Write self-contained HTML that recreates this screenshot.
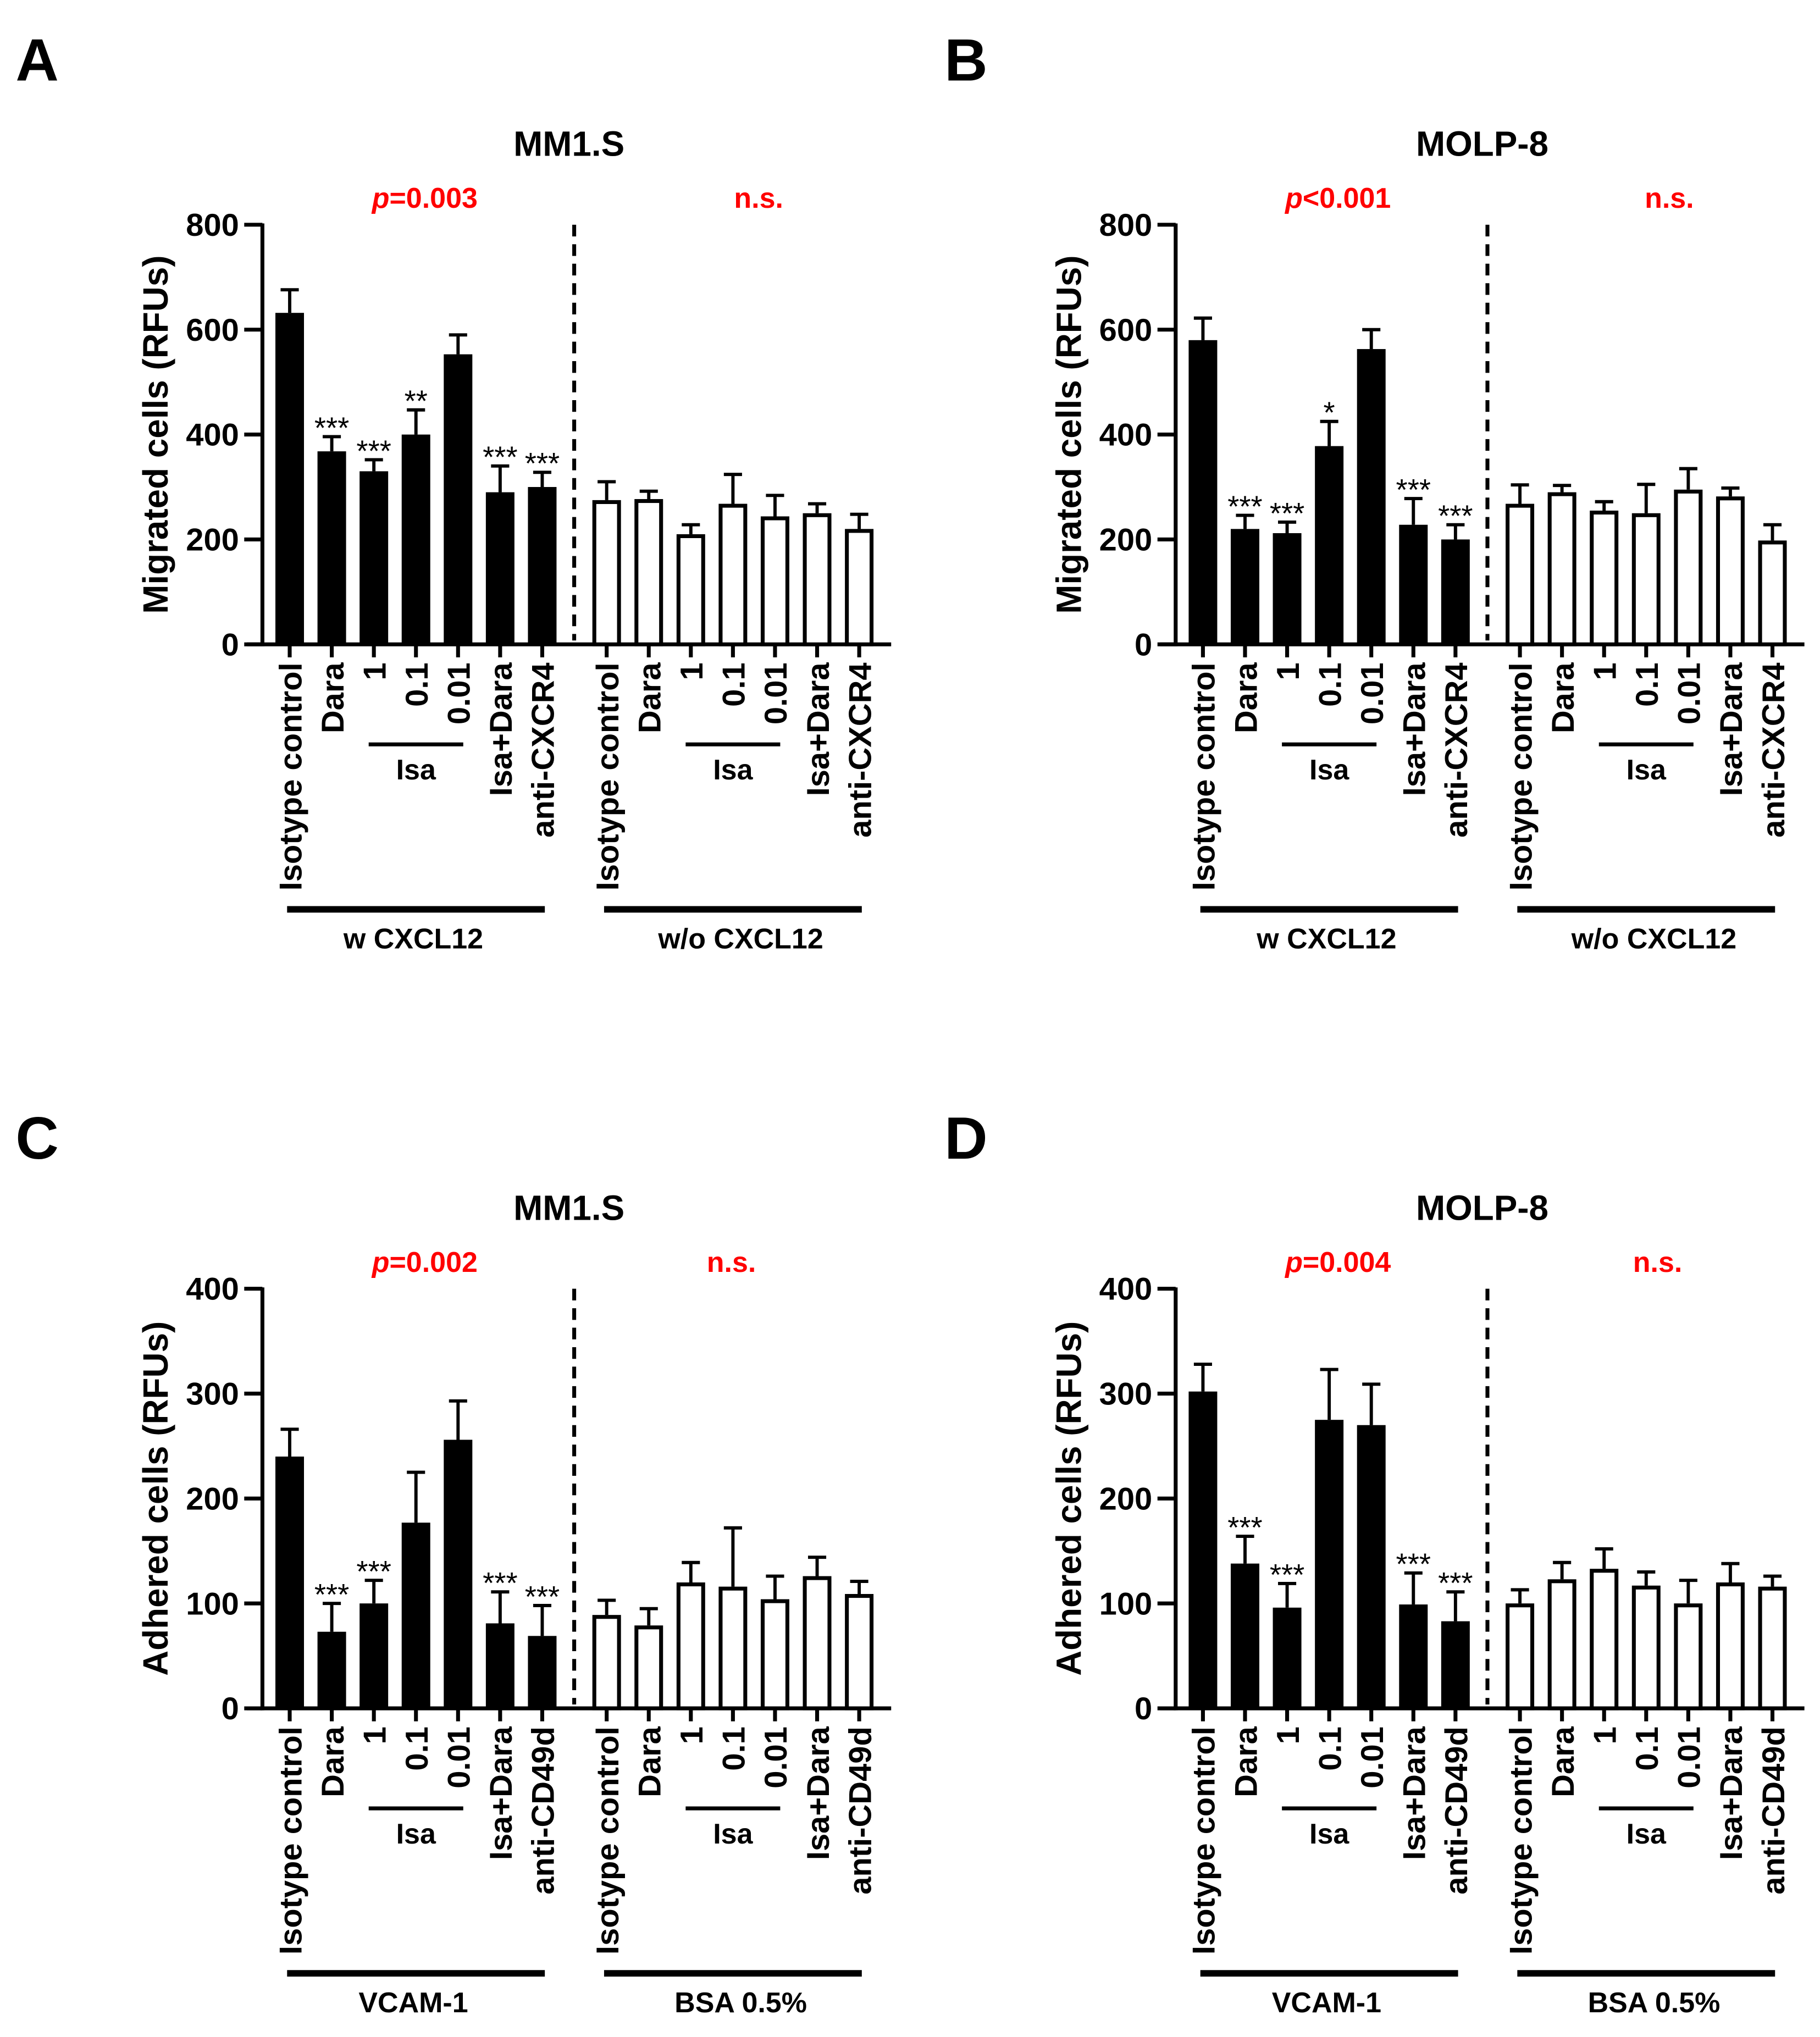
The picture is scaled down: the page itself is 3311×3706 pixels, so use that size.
<!DOCTYPE html>
<html><head><meta charset="utf-8"><style>
html,body{margin:0;padding:0;background:#fff}
svg{display:block}
text{font-family:"Liberation Sans",Arial,sans-serif;font-weight:bold}
</style></head><body>
<svg id="fig" width="3311" height="3706" viewBox="0 0 1401 1568" preserveAspectRatio="none" xmlns="http://www.w3.org/2000/svg">
<g id="root"></g>
</svg>
<script>
const categories = ["Isotype control","Dara","1","0.1","0.01","Isa+Dara","anti-CXCR4"];
const categoriesCD = ["Isotype control","Dara","1","0.1","0.01","Isa+Dara","anti-CD49d"];
const aBlack = [632,368,330,400,553,290,300];
const aBlackErr = [44,28,22,47,37,50,28];
const aWhite = [275,277,210,268,244,250,220];
const aWhiteErr = [35,15,18,56,40,18,28];
const aStars = ["","***","***","**","","***","***"];
const bBlack = [580,220,212,378,563,228,200];
const bBlackErr = [42,26,21,47,37,50,28];
const bWhite = [268,290,255,250,295,282,198];
const bWhiteErr = [36,13,17,55,40,16,30];
const bStars = ["","***","***","*","","***","***"];
const cBlack = [240,73,100,177,256,81,69];
const cBlackErr = [26,27,22,48,37,30,29];
const cWhite = [89,79,120,116,104,126,109];
const cWhiteErr = [14,16,19,56,22,18,12];
const cStars = ["","***","***","","","***","***"];
const dBlack = [302,138,96,275,270,99,83];
const dBlackErr = [26,26,23,48,39,30,28];
const dWhite = [100,123,133,117,100,120,116];
const dWhiteErr = [13,16,19,13,22,18,10];
const dStars = ["","***","***","","","***","***"];
const ticksMig = [0,200,400,600,800];
const ticksAdh = [0,100,200,300,400];

const NS="http://www.w3.org/2000/svg";
const root=document.getElementById('root');
function mk(tag,attrs,parent,txt){const e=document.createElementNS(NS,tag);for(const k in attrs)e.setAttribute(k,attrs[k]);if(txt!==undefined)e.textContent=txt;(parent||root).appendChild(e);return e;}

function panel(o){
  const g=mk('g',{});
  
  
  const ax=o.ax, y0=o.y0, yt=o.yt, max=o.ticks[o.ticks.length-1];
  const ys=v=>y0-v/max*(y0-yt);
  const xs=i=>ax+21+32.4*i;
  const xw=i=>ax+265+32.4*i;
  const L=mk('text',{x:o.lx,y:o.ly,'font-size':46},g,o.letter);
  
  
  const T=mk('text',{x:ax+236,y:o.yt-53,'font-size':27,'text-anchor':'middle'},g,o.title);
  
  
  const P=mk('text',{x:ax+125,y:o.yt-13,'font-size':22,'text-anchor':'middle',fill:'#ff0000'},g);
  
  
  mk('tspan',{'font-style':'italic'},P,'p');
  mk('tspan',{},P,o.p);
  const N=mk('text',{x:ax+o.nsx,y:o.yt-13,'font-size':22,'text-anchor':'middle',fill:'#ff0000'},g,'n.s.');
  
  
  const yl=mk('text',{transform:`translate(${ax-73},${(y0+yt)/2}) rotate(-90)`,'font-size':27,'text-anchor':'middle'},g,o.ylab);
  
  
  const ya=mk('line',{x1:ax,y1:yt-1,x2:ax,y2:y0+1.5,stroke:'#000','stroke-width':3},g);
  
  
  const xa=mk('line',{x1:ax-12,y1:y0,x2:ax+484,y2:y0,stroke:'#000','stroke-width':3},g);
  
  
  o.ticks.forEach(t=>{
    const tl=mk('line',{x1:ax-14,y1:ys(t),x2:ax,y2:ys(t),stroke:'#000','stroke-width':3},g);
    
    
    const tt=mk('text',{x:ax-18,y:ys(t)+8.5,'font-size':24.5,'text-anchor':'end'},g,String(t));
    
    
  });
  const dl=mk('line',{x1:ax+240,y1:yt,x2:ax+240,y2:y0-3,stroke:'#000','stroke-width':3,'stroke-dasharray':'9,6'},g);
  
  
  function bars(vals,errs,xf,filled,stars){
    vals.forEach((v,i)=>{
      const cx=xf(i), top=ys(v), et=ys(v+errs[i]);
      const el=mk('line',{x1:cx,y1:et,x2:cx,y2:top,stroke:'#000','stroke-width':2.5},g);
      
      
      const ec=mk('line',{x1:cx-7,y1:et,x2:cx+7,y2:et,stroke:'#000','stroke-width':2.5},g);
      
      
      let r;
      if(filled){r=mk('rect',{x:cx-11,y:top,width:22,height:y0-top,fill:'#000'},g);}
      else{r=mk('rect',{x:cx-9.5,y:top+1.5,width:19,height:y0-top-1.5,fill:'#fff',stroke:'#000','stroke-width':3},g);}
      
      
      if(stars&&stars[i]){
        const s=mk('text',{x:cx,y:et+1,'font-size':23,'text-anchor':'middle',style:'font-weight:normal'},g,stars[i]);
        
        
      }
      const tk=mk('line',{x1:cx,y1:y0,x2:cx,y2:y0+10,stroke:'#000','stroke-width':3},g);
      
      
      const lb=mk('text',{transform:`translate(${cx+9},${y0+14}) rotate(-90)`,'font-size':24.5,'text-anchor':'end'},g,o.cats[i]);
      
      
    });
  }
  bars(o.black,o.blackErr,xs,true,o.stars);
  bars(o.white,o.whiteErr,xw,false,null);
  [[xs,o.g1,0],[xw,o.g2,8]].forEach(([xf,lab,off])=>{
    const il=mk('line',{x1:xf(2)-4,y1:y0+77,x2:xf(4)+4,y2:y0+77,stroke:'#000','stroke-width':3},g);
    
    
    const it=mk('text',{x:xf(3),y:y0+104,'font-size':22,'text-anchor':'middle'},g,'Isa');
    
    
    const gl=mk('line',{x1:xf(0)-2,y1:y0+204,x2:xf(6)+2,y2:y0+204,stroke:'#000','stroke-width':5},g);
    
    
    const gt=mk('text',{x:xf(3)-2+off,y:y0+234,'font-size':22,'text-anchor':'middle'},g,lab);
    
    
  });
}
panel({name:'panel-a',letter:'A',lx:12,ly:62,ax:202,y0:496,yt:173,ticks:ticksMig,title:'MM1.S',p:'=0.003',nsx:382,ylab:'Migrated cells (RFUs)',cats:categories,black:aBlack,blackErr:aBlackErr,white:aWhite,whiteErr:aWhiteErr,stars:aStars,g1:'w CXCL12',g2:'w/o CXCL12'});
panel({name:'panel-b',letter:'B',lx:727,ly:62,ax:905,y0:496,yt:173,ticks:ticksMig,title:'MOLP-8',p:'<0.001',nsx:380,ylab:'Migrated cells (RFUs)',cats:categories,black:bBlack,blackErr:bBlackErr,white:bWhite,whiteErr:bWhiteErr,stars:bStars,g1:'w CXCL12',g2:'w/o CXCL12'});
panel({name:'panel-c',letter:'C',lx:12,ly:892,ax:202,y0:1315,yt:992,ticks:ticksAdh,title:'MM1.S',p:'=0.002',nsx:361,ylab:'Adhered cells (RFUs)',cats:categoriesCD,black:cBlack,blackErr:cBlackErr,white:cWhite,whiteErr:cWhiteErr,stars:cStars,g1:'VCAM-1',g2:'BSA 0.5%'});
panel({name:'panel-d',letter:'D',lx:727,ly:892,ax:905,y0:1315,yt:992,ticks:ticksAdh,title:'MOLP-8',p:'=0.004',nsx:371,ylab:'Adhered cells (RFUs)',cats:categoriesCD,black:dBlack,blackErr:dBlackErr,white:dWhite,whiteErr:dWhiteErr,stars:dStars,g1:'VCAM-1',g2:'BSA 0.5%'});
</script>
</body></html>
